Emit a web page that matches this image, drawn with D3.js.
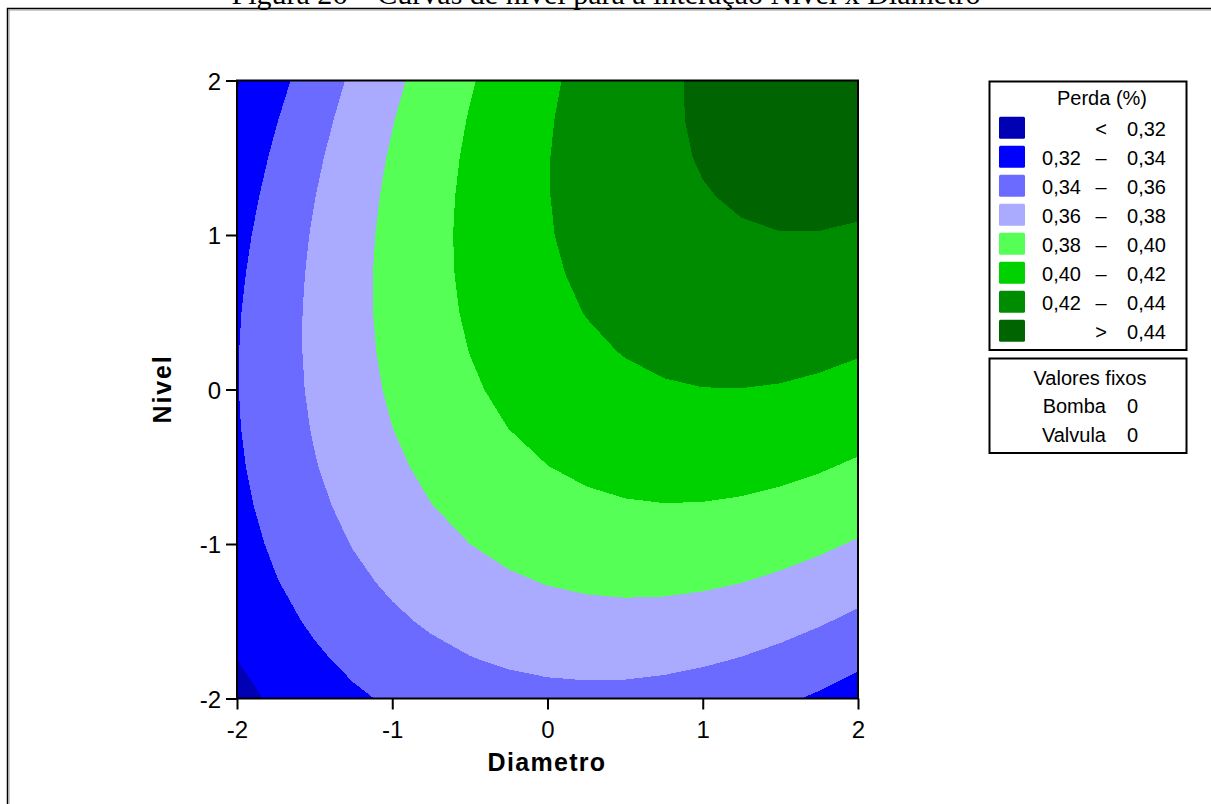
<!DOCTYPE html>
<html><head><meta charset="utf-8">
<script src="https://cdn.jsdelivr.net/npm/d3@7"></script>
<style>
body{margin:0;background:#fff;overflow:hidden}
svg{display:block}
text{font-family:"Liberation Sans",Arial,sans-serif;fill:#000}
</style></head>
<body><svg id="chart" width="1211" height="804"></svg>
<script>
// ---- data ----
const title = "Figura 26 – Curvas de nível para a interação Nível x Diâmetro";
const xLabel = "Diametro";
const yLabel = "Nivel";
const diametro = [-2, -1.75, -1.5, -1.25, -1, -0.75, -0.5, -0.25, 0, 0.25, 0.5, 0.75, 1, 1.25, 1.5, 1.75, 2];
const nivel = [-2, -1.75, -1.5, -1.25, -1, -0.75, -0.5, -0.25, 0, 0.25, 0.5, 0.75, 1, 1.25, 1.5, 1.75, 2];
// perda[i][j] : Perda (%) at nivel[i], diametro[j]
const perda = [
  [0.3143, 0.3229, 0.3305, 0.3371, 0.3426, 0.3472, 0.3508, 0.3533, 0.3549, 0.3554, 0.3550, 0.3535, 0.3510, 0.3475, 0.3430, 0.3375, 0.3310],
  [0.3199, 0.3290, 0.3370, 0.3441, 0.3501, 0.3551, 0.3592, 0.3622, 0.3642, 0.3652, 0.3652, 0.3642, 0.3621, 0.3591, 0.3551, 0.3500, 0.3439],
  [0.3249, 0.3344, 0.3429, 0.3504, 0.3569, 0.3624, 0.3668, 0.3703, 0.3728, 0.3742, 0.3747, 0.3741, 0.3725, 0.3699, 0.3663, 0.3617, 0.3561],
  [0.3291, 0.3391, 0.3480, 0.3560, 0.3629, 0.3688, 0.3738, 0.3777, 0.3806, 0.3825, 0.3834, 0.3833, 0.3822, 0.3801, 0.3769, 0.3728, 0.3676],
  [0.3326, 0.3430, 0.3524, 0.3608, 0.3682, 0.3746, 0.3800, 0.3844, 0.3877, 0.3901, 0.3914, 0.3918, 0.3911, 0.3895, 0.3868, 0.3831, 0.3784],
  [0.3354, 0.3462, 0.3561, 0.3650, 0.3728, 0.3797, 0.3855, 0.3903, 0.3941, 0.3970, 0.3988, 0.3996, 0.3993, 0.3981, 0.3959, 0.3927, 0.3884],
  [0.3374, 0.3488, 0.3591, 0.3684, 0.3767, 0.3840, 0.3903, 0.3956, 0.3998, 0.4031, 0.4054, 0.4066, 0.4069, 0.4061, 0.4043, 0.4015, 0.3977],
  [0.3388, 0.3505, 0.3613, 0.3711, 0.3799, 0.3876, 0.3943, 0.4001, 0.4048, 0.4085, 0.4112, 0.4129, 0.4136, 0.4133, 0.4120, 0.4097, 0.4063],
  [0.3394, 0.3516, 0.3629, 0.3731, 0.3823, 0.3905, 0.3977, 0.4039, 0.4091, 0.4132, 0.4164, 0.4186, 0.4197, 0.4198, 0.4190, 0.4171, 0.4142],
  [0.3393, 0.3520, 0.3637, 0.3743, 0.3840, 0.3927, 0.4003, 0.4070, 0.4126, 0.4172, 0.4208, 0.4234, 0.4250, 0.4256, 0.4252, 0.4238, 0.4214],
  [0.3385, 0.3516, 0.3638, 0.3749, 0.3850, 0.3941, 0.4022, 0.4093, 0.4154, 0.4205, 0.4246, 0.4276, 0.4297, 0.4307, 0.4308, 0.4298, 0.4278],
  [0.3369, 0.3505, 0.3631, 0.3747, 0.3853, 0.3948, 0.4034, 0.4110, 0.4175, 0.4230, 0.4276, 0.4311, 0.4336, 0.4351, 0.4356, 0.4351, 0.4335],
  [0.3347, 0.3487, 0.3618, 0.3738, 0.3848, 0.3949, 0.4039, 0.4119, 0.4189, 0.4249, 0.4298, 0.4338, 0.4368, 0.4387, 0.4397, 0.4396, 0.4385],
  [0.3317, 0.3462, 0.3597, 0.3722, 0.3837, 0.3941, 0.4036, 0.4121, 0.4195, 0.4260, 0.4314, 0.4358, 0.4392, 0.4416, 0.4430, 0.4434, 0.4428],
  [0.3280, 0.3430, 0.3569, 0.3699, 0.3818, 0.3927, 0.4026, 0.4115, 0.4195, 0.4263, 0.4322, 0.4371, 0.4410, 0.4438, 0.4457, 0.4465, 0.4464],
  [0.3236, 0.3390, 0.3534, 0.3668, 0.3792, 0.3906, 0.4009, 0.4103, 0.4187, 0.4260, 0.4324, 0.4377, 0.4420, 0.4453, 0.4476, 0.4489, 0.4492],
  [0.3185, 0.3343, 0.3492, 0.3630, 0.3759, 0.3877, 0.3985, 0.4083, 0.4172, 0.4250, 0.4318, 0.4375, 0.4423, 0.4461, 0.4488, 0.4506, 0.4513]
];
const levels = [0.32, 0.34, 0.36, 0.38, 0.40, 0.42, 0.44];
const bandColors = ["#0000B4", "#0000FF", "#6B6BFF", "#AAAAFF", "#55FF55", "#00D200", "#008C00", "#006400"];
const legendTitle = "Perda (%)";
const legendRows = [
  ["", "<", "0,32"], ["0,32", "–", "0,34"], ["0,34", "–", "0,36"], ["0,36", "–", "0,38"],
  ["0,38", "–", "0,40"], ["0,40", "–", "0,42"], ["0,42", "–", "0,44"], ["", ">", "0,44"]
];
const fixedTitle = "Valores fixos";
const fixedNames = ["Bomba", "Valvula"];
const fixedValues = ["0", "0"];
const xTicks = [-2, -1, 0, 1, 2];
const yTicks = [-2, -1, 0, 1, 2];

// ---- drawing ----
const svg = d3.select("#chart");
const P = {left: 237, right: 858, top: 80.5, bottom: 698.5};
const x = d3.scaleLinear().domain([-2, 2]).range([P.left, P.right]);
const y = d3.scaleLinear().domain([-2, 2]).range([P.bottom, P.top]);

// figure frame + cut title
svg.append("rect").attr("x", 7.5).attr("y", 8.5).attr("width", 1300).attr("height", 900)
  .attr("fill", "none").attr("stroke", "#000").attr("stroke-width", 1.5);
svg.append("line").attr("x1", 9).attr("x2", 1300).attr("y1", 10).attr("y2", 10).attr("stroke", "#999").attr("stroke-width", 1);
svg.append("line").attr("x1", 9).attr("x2", 9).attr("y1", 10).attr("y2", 900).attr("stroke", "#999").attr("stroke-width", 1);
svg.append("text").attr("x", 606).attr("y", 4).attr("text-anchor", "middle")
  .style("font-family", "'Liberation Serif','Times New Roman',serif").style("font-size", "30px").text(title);

// contours
const nx = diametro.length, ny = nivel.length;
const values = [];
for (let i = 0; i < ny; i++) for (let j = 0; j < nx; j++) values.push(perda[i][j]);
const gx = d3.scaleLinear().domain([0.5, nx - 0.5]).range([x(diametro[0]), x(diametro[nx - 1])]);
const gy = d3.scaleLinear().domain([0.5, ny - 0.5]).range([y(nivel[0]), y(nivel[ny - 1])]);
const proj = d3.geoTransform({point(px, py) { this.stream.point(gx(px), gy(py)); }});
const path = d3.geoPath(proj);
const contours = d3.contours().size([nx, ny]).thresholds(levels)(values);

svg.append("clipPath").attr("id", "clip").append("rect")
  .attr("x", P.left).attr("y", P.top).attr("width", P.right - P.left).attr("height", P.bottom - P.top);
const g = svg.append("g").attr("clip-path", "url(#clip)");
g.append("rect").attr("x", P.left).attr("y", P.top).attr("width", P.right - P.left).attr("height", P.bottom - P.top)
  .attr("fill", bandColors[0]);
g.selectAll("path.band").data(contours).join("path").attr("class", "band")
  .attr("d", path).attr("fill", (d, i) => bandColors[i + 1]).attr("shape-rendering", "crispEdges");

// frame
svg.append("rect").attr("x", P.left).attr("y", P.top).attr("width", P.right - P.left).attr("height", P.bottom - P.top)
  .attr("fill", "none").attr("stroke", "#000").attr("stroke-width", 2);

// axes
const fmt = d => String(d);
const xAxis = svg.append("g").attr("transform", `translate(0,${P.bottom})`)
  .call(d3.axisBottom(x).tickValues(xTicks).tickSize(11).tickSizeOuter(0).tickFormat(fmt));
const yAxis = svg.append("g").attr("transform", `translate(${P.left},0)`)
  .call(d3.axisLeft(y).tickValues(yTicks).tickSize(11).tickSizeOuter(0).tickFormat(fmt));
[xAxis, yAxis].forEach(a => {
  a.select(".domain").remove();
  a.selectAll(".tick line").attr("stroke", "#000").attr("stroke-width", 2);
  a.selectAll(".tick text").style("font-size", "24px").style("font-family", "'Liberation Sans',Arial,sans-serif").attr("fill", "#000");
});
xAxis.selectAll(".tick text").attr("dy", "0").attr("y", 39);
yAxis.selectAll(".tick text").attr("x", -16).attr("dy", "0.36em");

svg.append("text").attr("x", 547).attr("y", 771).attr("text-anchor", "middle")
  .style("font-size", "25px").style("font-weight", "bold").style("letter-spacing", "1.3px").text(xLabel);
svg.append("text").attr("transform", "translate(171,389) rotate(-90)").attr("text-anchor", "middle")
  .style("font-size", "25px").style("font-weight", "bold").style("letter-spacing", "1.8px").text(yLabel);

// legend
const L = svg.append("g");
L.append("rect").attr("x", 989.5).attr("y", 81.5).attr("width", 197).attr("height", 268.5)
  .attr("fill", "#fff").attr("stroke", "#000").attr("stroke-width", 2);
L.append("text").attr("x", 1102).attr("y", 105).attr("text-anchor", "middle").style("font-size", "20px").text(legendTitle);
const rows = L.selectAll("g.row").data(legendRows).join("g").attr("class", "row")
  .attr("transform", (d, i) => `translate(0,${116.7 + i * 29})`);
rows.append("rect").attr("x", 999).attr("y", 0).attr("width", 26).attr("height", 22).attr("rx", 1.5)
  .attr("fill", (d, i) => bandColors[i]);
rows.append("text").attr("x", 1081).attr("y", 19).attr("text-anchor", "end").style("font-size", "20px").text(d => d[0]);
rows.append("text").attr("x", 1101).attr("y", 19).attr("text-anchor", "middle").style("font-size", "20px").text(d => d[1]);
rows.append("text").attr("x", 1166).attr("y", 19).attr("text-anchor", "end").style("font-size", "20px").text(d => d[2]);

L.append("rect").attr("x", 989.5).attr("y", 358.5).attr("width", 197).attr("height", 94.5)
  .attr("fill", "#fff").attr("stroke", "#000").attr("stroke-width", 2);
L.append("text").attr("x", 1090).attr("y", 385).attr("text-anchor", "middle").style("font-size", "20px").text(fixedTitle);
fixedNames.forEach((n, i) => {
  L.append("text").attr("x", 1106).attr("y", 413 + i * 28.5).attr("text-anchor", "end").style("font-size", "20px").text(n);
  L.append("text").attr("x", 1127).attr("y", 413 + i * 28.5).attr("text-anchor", "start").style("font-size", "20px").text(fixedValues[i]);
});
</script></body></html>
